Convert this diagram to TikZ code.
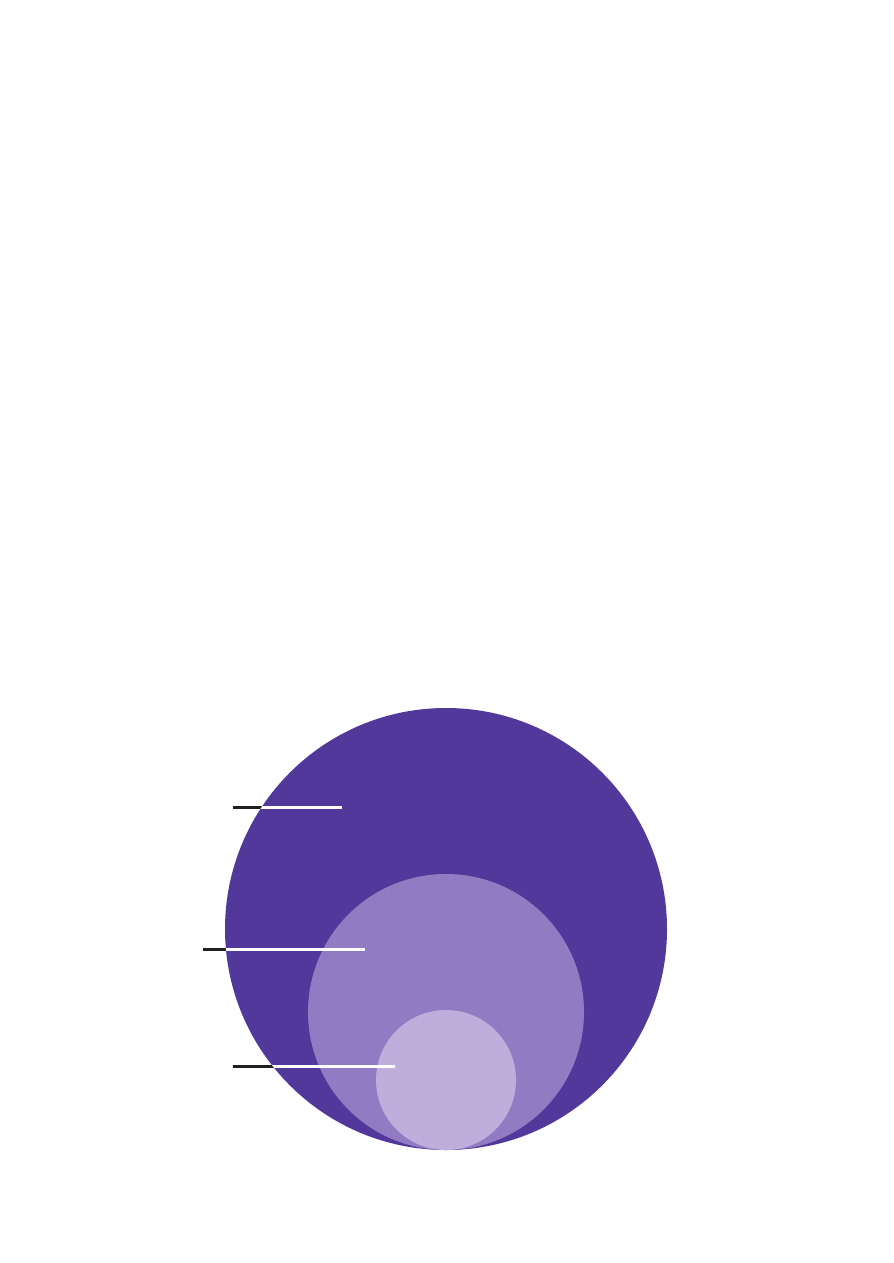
\documentclass[tikz,border=0pt]{standalone}
\definecolor{outerpurple}{HTML}{51389A}
\definecolor{midpurple}{HTML}{937BC4}
\definecolor{innerpurple}{HTML}{BFAEDC}
\definecolor{leaderdark}{HTML}{231F20}
\begin{document}
\begin{tikzpicture}[x=1mm, y=-1mm, line join=round]
			\useasboundingbox (0,0) rectangle (89.3,126.3);
			\fill[outerpurple] (44.6,92.9) circle (22.1);
			\fill[midpurple] (44.6,101.2) circle (13.8);
			\fill[innerpurple] (44.6,108.0) circle (7.0);
			\coordinate (a1) at (23.3,80.7);  \coordinate (b1) at (34.2,80.7);
			\coordinate (a2) at (20.3,94.9);  \coordinate (b2) at (36.5,94.9);
			\coordinate (a3) at (23.3,106.6); \coordinate (b3) at (39.5,106.6);
			\draw[leaderdark, line width=.3mm] (a1) -- (b1) (a2) -- (b2) (a3) -- (b3);
			\begin{scope}
				\clip (44.6,92.9) circle (22.1);
				\draw[white, line width=.3mm] (a1) -- (b1) (a2) -- (b2) (a3) -- (b3);
			\end{scope}
		\end{tikzpicture}
\end{document}
